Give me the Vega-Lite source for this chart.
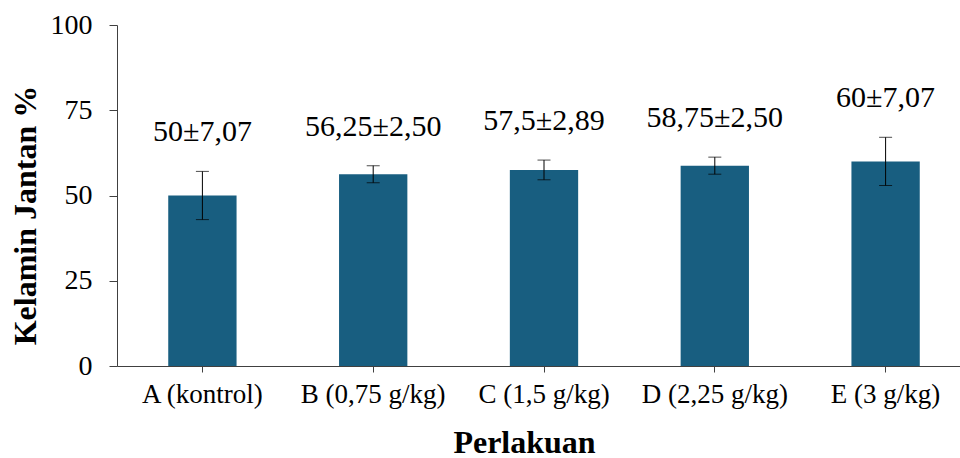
{
  "$schema": "https://vega.github.io/schema/vega-lite/v6.json",
  "autosize": {"type": "none"},
  "width": 843,
  "height": 341,
  "padding": {"left": 117, "top": 25, "right": 0, "bottom": 92},
  "background": "white",
  "config": {
    "view": {"stroke": null},
    "font": "Liberation Serif",
    "mark": {"font": "Liberation Serif"},
    "text": {"font": "Liberation Serif"},
    "axis": {"labelFont": "Liberation Serif", "titleFont": "Liberation Serif"}
  },
  "data": {
    "values": [
      {"perlakuan": "A (kontrol)", "mean": 50, "sd": 7.07, "label": "50±7,07"},
      {"perlakuan": "B (0,75 g/kg)", "mean": 56.25, "sd": 2.5, "label": "56,25±2,50"},
      {"perlakuan": "C (1,5 g/kg)", "mean": 57.5, "sd": 2.89, "label": "57,5±2,89"},
      {"perlakuan": "D (2,25 g/kg)", "mean": 58.75, "sd": 2.5, "label": "58,75±2,50"},
      {"perlakuan": "E (3 g/kg)", "mean": 60, "sd": 7.07, "label": "60±7,07"}
    ]
  },
  "transform": [{"calculate": "datum.mean + datum.sd", "as": "hi"}],
  "encoding": {
    "x": {
      "field": "perlakuan",
      "type": "nominal",
      "sort": null,
      "scale": {"range": [0, 854], "paddingInner": 0.6, "paddingOuter": 0.3},
      "axis": {
        "title": "Perlakuan",
        "labelAngle": 0,
        "labelFontSize": 27,
        "labelColor": "black",
        "labelPadding": 9,
        "tickSize": 6,
        "tickColor": "#404040",
        "domainColor": "#404040",
        "titleFontSize": 32,
        "titleFontWeight": "bold",
        "titleColor": "black",
        "titleX": 407,
        "titleY": 86,
        "titleBaseline": "alphabetic",
        "titleAnchor": "middle",
        "titleAlign": "center"
      }
    }
  },
  "layer": [
    {
      "mark": {"type": "bar", "color": "#185e80"},
      "encoding": {
        "y": {
          "field": "mean",
          "type": "quantitative",
          "scale": {"domain": [0, 100]},
          "axis": {
            "title": "Kelamin Jantan %",
            "values": [0, 25, 50, 75, 100],
            "grid": false,
            "labelFontSize": 28,
            "labelColor": "black",
            "labelPadding": 17,
            "tickSize": 8,
            "tickColor": "#404040",
            "domainColor": "#404040",
            "titleFontSize": 32,
            "titleFontWeight": "bold",
            "titleColor": "black",
            "titleAngle": 270,
            "titleX": -92,
            "titleY": 190,
            "titleBaseline": "middle",
            "titleAlign": "center"
          }
        }
      }
    },
    {
      "mark": {"type": "errorbar", "ticks": {"size": 13, "color": "black", "strokeWidth": 1}, "rule": {"color": "black", "strokeWidth": 1}},
      "encoding": {
        "y": {"field": "mean", "type": "quantitative", "title": "Kelamin Jantan %"},
        "yError": {"field": "sd"}
      }
    },
    {
      "mark": {"type": "text", "font": "Times New Roman, Liberation Serif, serif", "fontSize": 30, "color": "black", "baseline": "alphabetic", "dy": -30},
      "encoding": {
        "y": {"field": "hi", "type": "quantitative", "title": "Kelamin Jantan %"},
        "text": {"field": "label"}
      }
    }
  ]
}
